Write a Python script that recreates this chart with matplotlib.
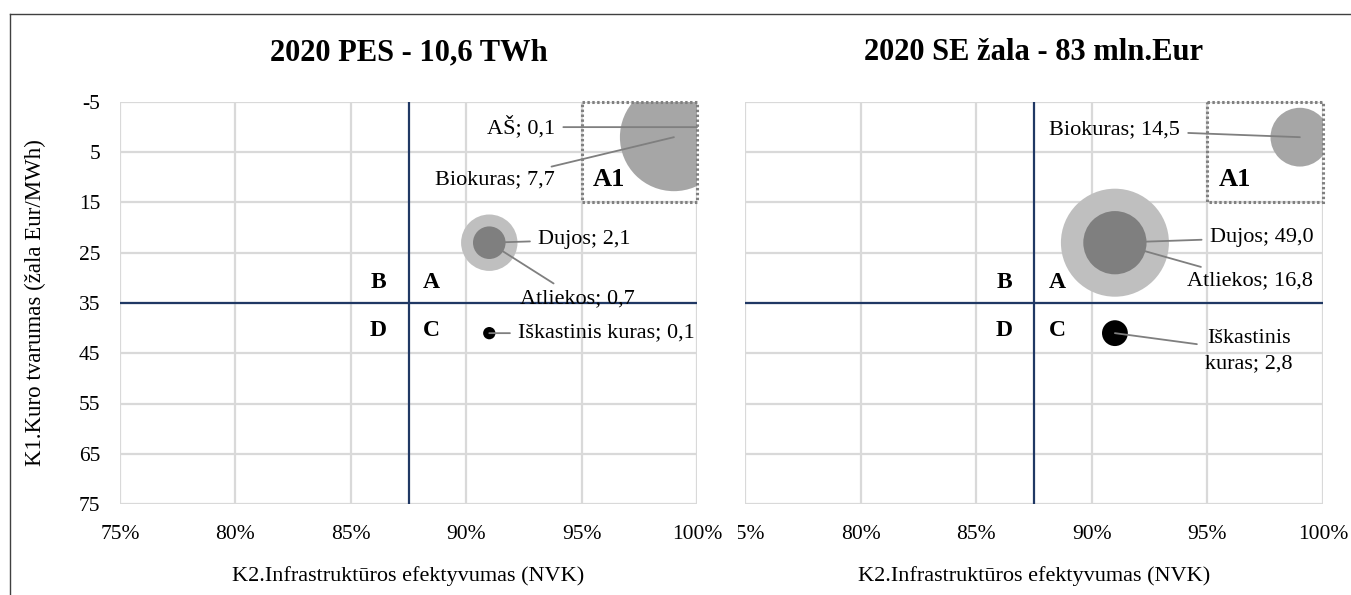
import matplotlib.pyplot as plt
from matplotlib.lines import Line2D
from matplotlib.patches import Rectangle
from matplotlib.transforms import Bbox

plt.rcParams['font.family'] = ['Liberation Serif', 'DejaVu Serif']

# Duomenys
left_title = "2020 PES - 10,6 TWh"
right_title = "2020 SE žala - 83 mln.Eur"

left_names = ["AŠ", "Biokuras", "Dujos", "Atliekos", "Iškastinis kuras"]
left_x = [1.00, 0.99, 0.91, 0.91, 0.91]
left_y = [0, 2, 23, 23, 41]
left_vals = [0.1, 7.7, 2.1, 0.7, 0.1]
left_colors = ["#7f7f7f", "#a6a6a6", "#bfbfbf", "#7f7f7f", "#000000"]

right_names = ["Biokuras", "Dujos", "Atliekos", "Iškastinis\nkuras"]
right_x = [0.99, 0.91, 0.91, 0.91]
right_y = [2, 23, 23, 41]
right_vals = [14.5, 49.0, 16.8, 2.8]
right_colors = ["#a6a6a6", "#bfbfbf", "#7f7f7f", "#000000"]

x_ticks = [0.75, 0.80, 0.85, 0.90, 0.95, 1.00]
x_ticklabels = ["75%", "80%", "85%", "90%", "95%", "100%"]
y_ticks = [-5, 5, 15, 25, 35, 45, 55, 65, 75]

# etiketės: poslinkis pikseliais, lygiavimas
left_label_pos = [(-142, 0, "right"), (-119, -43, "right"), (49, 3, "left"),
                  (31, -56, "left"), (29, 0, "left")]
right_label_pos = [(-120, 7, "right"), (95, 5, "left"), (72, -38, "left"),
                   (134, -18, "center")]

W, H = 1351, 595
fig = plt.figure(figsize=(W / 100, H / 100), dpi=100)

# rėmelis
fig.add_artist(Line2D([10 / W, 1], [1 - 14 / H, 1 - 14 / H], color="#404040", lw=1))
fig.add_artist(Line2D([10 / W, 10 / W], [0, 1 - 14 / H], color="#404040", lw=1))

ax1 = fig.add_axes([120 / W, 91 / H, 577 / W, 402 / H])
ax2 = fig.add_axes([745 / W, 91 / H, 578 / W, 402 / H])

MAX_S = 6048  # didžiausio burbulo plotas (pt^2)


def draw(ax, title, names, xs, ys, vals, colors, label_pos, show_y):
    vmax = max(vals)
    sizes = [MAX_S * v / vmax for v in vals]
    ax.scatter(xs, ys, s=sizes, c=colors, edgecolors="none", zorder=3)

    ax.set_xlim(0.75, 1.00)
    ax.set_ylim(75, -5)
    ax.set_xticks(x_ticks)
    ax.set_xticklabels(x_ticklabels, fontsize=15.5)
    ax.set_yticks(y_ticks)
    if show_y:
        ax.set_yticklabels([str(t) for t in y_ticks], fontsize=15.5)
    else:
        ax.set_yticklabels([])
    ax.tick_params(axis="x", length=0, pad=15)
    ax.tick_params(axis="y", length=0, pad=14)
    ax.grid(True, color="#d9d9d9", lw=1.6)
    ax.set_axisbelow(True)
    for sp in ax.spines.values():
        sp.set_visible(False)

    ax.axvline(0.875, color="#203864", lw=1.6, zorder=2)
    ax.axhline(35, color="#203864", lw=1.6, zorder=2)

    ax.add_patch(Rectangle((0.95, -5), 0.05, 20, fill=False, ec="#808080",
                           lw=2.2, ls=(0, (0.8, 0.8)), clip_on=False, zorder=4))

    for t, qx, qy in [("B", 0.862, 31), ("A", 0.885, 31), ("D", 0.862, 40.5), ("C", 0.885, 40.5)]:
        ax.text(qx, qy, t, fontsize=17, fontweight="bold", ha="center", va="center")
    ax.text(0.962, 10.5, "A1", fontsize=19, fontweight="bold", ha="center", va="center")

    for n, x, y, v, (dx, dy, ha) in zip(names, xs, ys, vals, label_pos):
        ax.annotate(f"{n}; {v:.1f}".replace(".", ","), xy=(x, y), xytext=(dx, dy),
                    textcoords="offset pixels", ha=ha, va="center", fontsize=16,
                    linespacing=1.45, zorder=5,
                    arrowprops=dict(arrowstyle="-", color="#7f7f7f", lw=1.3,
                                    shrinkA=4, shrinkB=0))

    ax.set_title(title, fontsize=22, fontweight="bold", pad=30)
    ax.set_xlabel("K2.Infrastruktūros efektyvumas (NVK)", fontsize=16, labelpad=16)


draw(ax1, left_title, left_names, left_x, left_y, left_vals, left_colors,
     left_label_pos, True)
draw(ax2, right_title, right_names, right_x, right_y, right_vals, right_colors,
     right_label_pos, False)
ax1.set_ylabel("K1.Kuro tvarumas (žala Eur/MWh)", fontsize=16.5, labelpad=24)

# dešinės diagramos 75% etiketė nukirpta diagramos krašte
fig.canvas.draw()
clip = Bbox.from_extents(738, 0, W, H)
for lbl in ax2.get_xticklabels():
    lbl.set_clip_box(clip)
    lbl.set_clip_on(True)

fig.savefig("out.png", dpi=100)
